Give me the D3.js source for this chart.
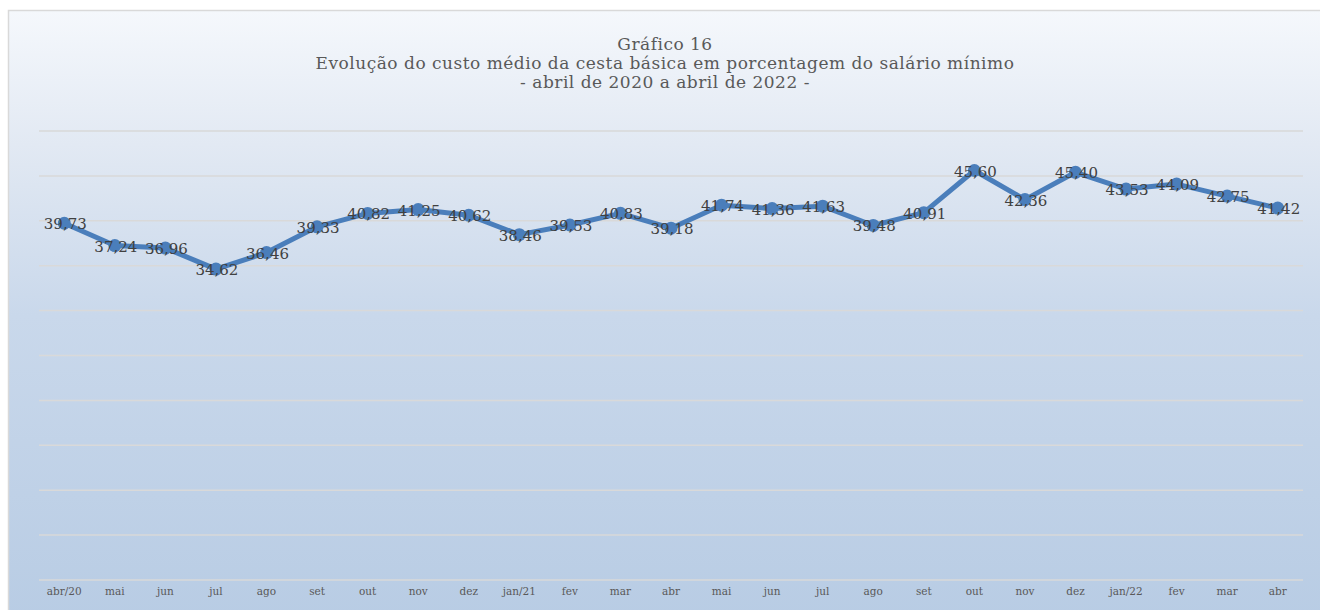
<!DOCTYPE html>
<html>
<head>
<meta charset="utf-8">
<script src="https://cdn.jsdelivr.net/npm/d3@7"></script>
<style>
  body { margin: 0; background: #fff; }
  svg { display: block; }
</style>
</head>
<body>
<div id="chart"></div>
<script>
// Data
var months = ["abr/20", "mai", "jun", "jul", "ago", "set", "out", "nov", "dez", "jan/21", "fev", "mar",
              "abr", "mai", "jun", "jul", "ago", "set", "out", "nov", "dez", "jan/22", "fev", "mar", "abr"];
var values = [39.73, 37.24, 36.96, 34.62, 36.46, 39.33, 40.82, 41.25, 40.62, 38.46, 39.53, 40.83,
              39.18, 41.74, 41.36, 41.63, 39.48, 40.91, 45.60, 42.36, 45.40, 43.53, 44.09, 42.75, 41.42];
var yTicks = [0, 5, 10, 15, 20, 25, 30, 35, 40, 45, 50];
var titleLines = ["Gráfico 16",
                  "Evolução do custo médio da cesta básica em porcentagem do salário mínimo",
                  "- abril de 2020 a abril de 2022 -"];

var W = 1320, H = 610;
var margin = { top: 131, right: 17, bottom: 30, left: 39 };
var font = "'DejaVu Serif', serif";

var svg = d3.select('#chart').append('svg')
    .attr('width', W)
    .attr('height', H);

// background gradient
var grad = svg.append('defs').append('linearGradient')
    .attr('id', 'bg').attr('x1', 0).attr('y1', 0).attr('x2', 0).attr('y2', 1);
grad.append('stop').attr('offset', '0%').attr('stop-color', '#f5f8fc');
grad.append('stop').attr('offset', '22%').attr('stop-color', '#e2e9f3');
grad.append('stop').attr('offset', '50%').attr('stop-color', '#c9d8eb');
grad.append('stop').attr('offset', '100%').attr('stop-color', '#b8cce4');

svg.append('rect')
    .attr('x', 8.5).attr('y', 10.5)
    .attr('width', W).attr('height', H)
    .attr('fill', 'url(#bg)')
    .attr('stroke', '#d9d9d9')
    .attr('stroke-width', 1.5);

// Scales
var x = d3.scaleBand()
    .domain(d3.range(months.length))
    .range([margin.left, W - margin.right]);

var y = d3.scaleLinear()
    .domain([0, 50])
    .range([H - margin.bottom, margin.top]);

// Gridlines
svg.append('g')
    .selectAll('line')
    .data(yTicks)
    .enter()
    .append('line')
    .attr('x1', margin.left)
    .attr('x2', W - margin.right)
    .attr('y1', d => y(d))
    .attr('y2', d => y(d))
    .attr('stroke', '#d9d9d9')
    .attr('stroke-width', 1.5);

// X axis labels
var xAxis = d3.axisBottom(x).tickSize(0).tickPadding(8).tickFormat(i => months[i]);
var gx = svg.append('g')
    .attr('transform', 'translate(0,' + (H - margin.bottom) + ')')
    .call(xAxis);
gx.select('.domain').remove();
gx.selectAll('text')
    .attr('fill', '#595959')
    .style('font-family', font)
    .style('font-size', '10.5px');

// Line
var cx = i => x(i) + x.bandwidth() / 2;
var line = d3.line()
    .x((d, i) => cx(i))
    .y(d => y(d));

svg.append('path')
    .datum(values)
    .attr('d', line)
    .attr('fill', 'none')
    .attr('stroke', '#4a7ebb')
    .attr('stroke-width', 5)
    .attr('stroke-linejoin', 'round');

svg.selectAll('circle.pt')
    .data(values)
    .enter()
    .append('circle')
    .attr('class', 'pt')
    .attr('cx', (d, i) => cx(i))
    .attr('cy', d => y(d))
    .attr('r', 6.5)
    .attr('fill', '#4a7ebb');

// Data labels
svg.selectAll('text.lbl')
    .data(values)
    .enter()
    .append('text')
    .attr('class', 'lbl')
    .attr('x', (d, i) => cx(i) + 1)
    .attr('y', d => y(d) + 6)
    .attr('text-anchor', 'middle')
    .attr('fill', '#404040')
    .style('font-family', font)
    .style('font-size', '15px')
    .text(d => d3.format('.2f')(d).replace('.', ','));

// Title
svg.append('text')
    .attr('text-anchor', 'middle')
    .attr('fill', '#595959')
    .style('font-family', font)
    .style('font-size', '17px')
    .style('letter-spacing', '0.5px')
    .selectAll('tspan')
    .data(titleLines)
    .enter()
    .append('tspan')
    .attr('x', 665)
    .attr('y', (d, i) => 50 + i * 19)
    .text(d => d);
</script>
</body>
</html>
